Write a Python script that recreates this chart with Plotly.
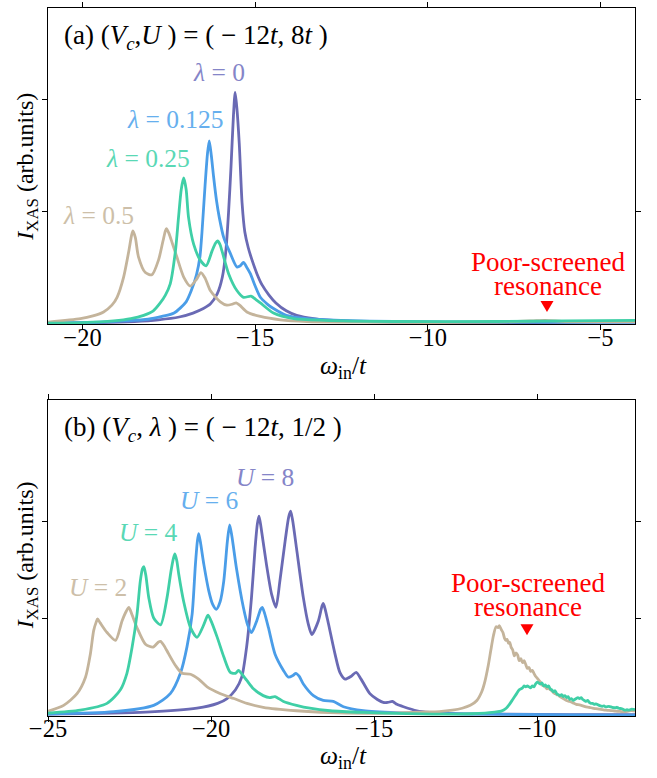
import plotly.graph_objects as go

# ---------------- data (omega_in / t , intensity in arb. units) ----------------
# Panel (a): (Vc, U) = (-12t, 8t), different lambda
a_lam0 = [(-21, 0.01), (-19.5, 0.015), (-18.5, 0.025), (-17.8, 0.04), (-17.2, 0.065), (-16.8, 0.1),
          (-16.5, 0.14), (-16.3, 0.18), (-16.1, 0.27), (-15.95, 0.42), (-15.85, 0.65), (-15.77, 1.0),
          (-15.7, 1.4), (-15.63, 1.85), (-15.58, 2.06), (-15.53, 1.92), (-15.46, 1.6), (-15.38, 1.08),
          (-15.3, 0.82), (-15.2, 0.68), (-15.09, 0.57), (-14.95, 0.45), (-14.8, 0.35), (-14.6, 0.26),
          (-14.4, 0.19), (-14.1, 0.12), (-13.8, 0.08), (-13.3, 0.05), (-12.5, 0.03), (-11, 0.02),
          (-9, 0.015), (-7, 0.015), (-5, 0.02), (-4, 0.02)]
a_lam0125 = [(-21, 0.012), (-19.5, 0.02), (-18.8, 0.03), (-18.1, 0.045), (-17.7, 0.07), (-17.35, 0.1),
             (-17.0, 0.2), (-16.85, 0.3), (-16.7, 0.44), (-16.6, 0.6), (-16.54, 0.82), (-16.45, 1.24),
             (-16.38, 1.52), (-16.33, 1.63), (-16.27, 1.5), (-16.2, 1.3), (-16.12, 1.1), (-16.04, 0.95),
             (-15.91, 0.77), (-15.72, 0.63), (-15.53, 0.51), (-15.43, 0.52), (-15.34, 0.55), (-15.25, 0.51),
             (-15.14, 0.45), (-15.0, 0.34), (-14.85, 0.24), (-14.65, 0.18), (-14.47, 0.14), (-14.1, 0.08),
             (-13.5, 0.05), (-12.5, 0.035), (-11, 0.025), (-8, 0.02), (-6, 0.02), (-4, 0.02)]
a_lam025 = [(-21, 0.01), (-20, 0.015), (-19.1, 0.03), (-18.6, 0.05), (-18.23, 0.08), (-17.95, 0.12),
            (-17.75, 0.19), (-17.6, 0.26), (-17.46, 0.36), (-17.31, 0.65), (-17.22, 0.95), (-17.14, 1.2),
            (-17.07, 1.3), (-17.0, 1.2), (-16.93, 0.95), (-16.78, 0.71), (-16.59, 0.57), (-16.42, 0.52),
            (-16.25, 0.65), (-16.15, 0.72), (-16.09, 0.74), (-16.02, 0.71), (-15.96, 0.65), (-15.77, 0.45),
            (-15.53, 0.3), (-15.34, 0.24), (-15.12, 0.25), (-14.98, 0.22), (-14.85, 0.19), (-14.47, 0.1),
            (-13.89, 0.05), (-13.0, 0.035), (-11, 0.025), (-8, 0.025), (-6, 0.03), (-4, 0.035)]
a_lam05 = [(-21, 0.02), (-20.06, 0.05), (-19.7, 0.075), (-19.39, 0.11), (-19.15, 0.17), (-19.0, 0.24),
           (-18.81, 0.42), (-18.66, 0.65), (-18.58, 0.79), (-18.54, 0.83), (-18.47, 0.77), (-18.38, 0.6),
           (-18.18, 0.46), (-17.99, 0.44), (-17.8, 0.57), (-17.67, 0.74), (-17.6, 0.83), (-17.57, 0.85),
           (-17.5, 0.81), (-17.4, 0.72), (-17.27, 0.6), (-17.07, 0.42), (-16.88, 0.34), (-16.7, 0.4),
           (-16.57, 0.46), (-16.45, 0.41), (-16.3, 0.3), (-16.01, 0.2), (-15.82, 0.17), (-15.65, 0.18),
           (-15.55, 0.19), (-15.45, 0.17), (-15.24, 0.11), (-14.85, 0.07), (-14.27, 0.04), (-13.5, 0.025),
           (-12, 0.02), (-10, 0.015), (-8, 0.02), (-7, 0.03), (-6.6, 0.035), (-6, 0.025), (-4, 0.025)]

# Panel (b): (Vc, lambda) = (-12t, 1/2), different U
b_u8 = [(-25, 0.02), (-22, 0.04), (-20.43, 0.08), (-19.8, 0.13), (-19.51, 0.18), (-19.25, 0.27),
        (-19.06, 0.4), (-18.91, 0.71), (-18.76, 1.22), (-18.65, 1.73), (-18.58, 1.98), (-18.53, 2.06),
        (-18.47, 1.95), (-18.3, 1.56), (-18.14, 1.25), (-18.01, 1.12), (-17.89, 1.39), (-17.73, 1.8),
        (-17.62, 2.05), (-17.56, 2.11), (-17.5, 2.02), (-17.38, 1.73), (-17.17, 1.22), (-17.02, 0.95),
        (-16.91, 0.84), (-16.71, 0.98), (-16.6, 1.13), (-16.56, 1.16), (-16.5, 1.1), (-16.4, 0.95),
        (-16.2, 0.64), (-16.05, 0.45), (-15.89, 0.38), (-15.7, 0.41), (-15.55, 0.45), (-15.4, 0.38),
        (-15.13, 0.23), (-14.9, 0.17), (-14.72, 0.14), (-14.58, 0.14), (-14.44, 0.15), (-14.3, 0.12),
        (-14.1, 0.095), (-13.69, 0.054), (-13.29, 0.037), (-12.5, 0.025), (-11, 0.02), (-9, 0.015),
        (-7, 0.015)]
b_u6 = [(-25, 0.02), (-22.99, 0.044), (-21.76, 0.11), (-21.25, 0.23), (-20.94, 0.44), (-20.74, 0.71),
        (-20.58, 1.05), (-20.48, 1.56), (-20.42, 1.8), (-20.38, 1.88), (-20.33, 1.8), (-20.22, 1.56),
        (-20.07, 1.29), (-19.95, 1.15), (-19.84, 1.1), (-19.72, 1.18), (-19.61, 1.39), (-19.5, 1.8),
        (-19.43, 1.97), (-19.36, 1.85), (-19.22, 1.52), (-19.01, 1.12), (-18.88, 0.94), (-18.76, 0.86),
        (-18.6, 0.98), (-18.48, 1.1), (-18.43, 1.12), (-18.36, 1.06), (-18.24, 0.91), (-18.04, 0.64),
        (-17.78, 0.47), (-17.63, 0.40), (-17.48, 0.42), (-17.4, 0.44), (-17.3, 0.41), (-17.17, 0.33),
        (-16.86, 0.21), (-16.56, 0.16), (-16.25, 0.15), (-15.94, 0.095), (-15.33, 0.054), (-14.31, 0.034),
        (-12, 0.02), (-9, 0.012), (-7, 0.01)]
b_u4 = [(-25, 0.03), (-24.01, 0.06), (-23.19, 0.13), (-22.78, 0.27), (-22.58, 0.44), (-22.42, 0.71),
        (-22.27, 1.05), (-22.17, 1.39), (-22.1, 1.52), (-22.06, 1.54), (-22.0, 1.45), (-21.91, 1.22),
        (-21.76, 1.01), (-21.55, 0.94), (-21.35, 1.22), (-21.23, 1.49), (-21.15, 1.63), (-21.11, 1.67),
        (-21.05, 1.6), (-20.99, 1.46), (-20.84, 1.18), (-20.63, 0.91), (-20.43, 0.81), (-20.25, 0.92),
        (-20.13, 1.02), (-20.09, 1.04), (-20.0, 0.98), (-19.81, 0.81), (-19.61, 0.61), (-19.41, 0.45),
        (-19.25, 0.44), (-19.16, 0.47), (-19.05, 0.43), (-18.91, 0.37), (-18.7, 0.28), (-18.4, 0.21),
        (-18.2, 0.19), (-18.04, 0.2), (-17.78, 0.15), (-17.38, 0.11), (-16.97, 0.08), (-16.35, 0.054),
        (-15.33, 0.037), (-14, 0.025), (-12.5, 0.02), (-11.6, 0.03), (-11.3, 0.04), (-11.1, 0.05),
        (-10.95, 0.08), (-10.85, 0.12), (-10.75, 0.17), (-10.65, 0.22), (-10.55, 0.27), (-10.45, 0.29),
        (-10.4, 0.31), (-10.35, 0.30), (-10.3, 0.31), (-10.25, 0.30), (-10.2, 0.29), (-10.15, 0.31),
        (-10.1, 0.30), (-10.05, 0.33), (-10.0, 0.35), (-9.95, 0.34), (-9.9, 0.33), (-9.85, 0.34),
        (-9.8, 0.31), (-9.75, 0.32), (-9.7, 0.30), (-9.65, 0.31), (-9.6, 0.28), (-9.55, 0.27),
        (-9.5, 0.25), (-9.45, 0.26), (-9.4, 0.23), (-9.35, 0.22), (-9.3, 0.21), (-9.25, 0.22),
        (-9.2, 0.2), (-9.15, 0.21), (-9.1, 0.19), (-9.05, 0.2), (-9.0, 0.17), (-8.95, 0.18),
        (-8.9, 0.16), (-8.85, 0.17), (-8.8, 0.18), (-8.75, 0.19), (-8.7, 0.18), (-8.65, 0.19),
        (-8.6, 0.17), (-8.55, 0.16), (-8.5, 0.15), (-8.45, 0.16), (-8.4, 0.14), (-8.35, 0.13),
        (-8.3, 0.13), (-8.25, 0.12), (-8.2, 0.125), (-8.1, 0.11), (-8.0, 0.1), (-7.95, 0.105),
        (-7.9, 0.095), (-7.8, 0.1), (-7.7, 0.09), (-7.6, 0.085), (-7.55, 0.09), (-7.5, 0.08),
        (-7.4, 0.075), (-7.3, 0.06), (-7.25, 0.065), (-7.2, 0.06), (-7.1, 0.07), (-7.0, 0.065)]
b_u2 = [(-25, 0.05), (-24.52, 0.11), (-24.11, 0.23), (-23.85, 0.40), (-23.7, 0.64), (-23.6, 0.88),
        (-23.52, 0.97), (-23.48, 1.0), (-23.4, 0.96), (-23.19, 0.86), (-22.93, 0.78), (-22.73, 0.98),
        (-22.6, 1.08), (-22.52, 1.12), (-22.42, 1.04), (-22.27, 0.91), (-22.01, 0.74), (-21.78, 0.71),
        (-21.62, 0.76), (-21.55, 0.77), (-21.45, 0.73), (-21.3, 0.64), (-21.09, 0.52), (-20.89, 0.44),
        (-20.63, 0.43), (-20.38, 0.38), (-20.12, 0.30), (-19.71, 0.23), (-19.3, 0.18), (-18.9, 0.13),
        (-18.4, 0.09), (-17.38, 0.054), (-16.35, 0.034), (-15.33, 0.027), (-14.5, 0.03), (-13.6, 0.04),
        (-13.0, 0.045), (-12.6, 0.06), (-12.3, 0.08), (-12.05, 0.11), (-11.85, 0.16), (-11.7, 0.25),
        (-11.6, 0.36), (-11.5, 0.52), (-11.42, 0.68), (-11.34, 0.83), (-11.26, 0.92), (-11.2, 0.91),
        (-11.16, 0.93), (-11.1, 0.89), (-11.05, 0.86), (-11.0, 0.80), (-10.96, 0.78), (-10.92, 0.79),
        (-10.88, 0.75), (-10.84, 0.76), (-10.8, 0.71), (-10.75, 0.68), (-10.7, 0.62), (-10.65, 0.65),
        (-10.6, 0.63), (-10.55, 0.57), (-10.5, 0.59), (-10.45, 0.55), (-10.4, 0.57), (-10.35, 0.53),
        (-10.3, 0.49), (-10.25, 0.5), (-10.2, 0.46), (-10.15, 0.47), (-10.1, 0.44), (-10.05, 0.41),
        (-10.0, 0.39), (-9.95, 0.37), (-9.9, 0.35), (-9.85, 0.32), (-9.8, 0.31), (-9.75, 0.30),
        (-9.7, 0.28), (-9.65, 0.29), (-9.6, 0.27), (-9.55, 0.26), (-9.5, 0.24), (-9.45, 0.23),
        (-9.4, 0.22), (-9.35, 0.215), (-9.3, 0.2), (-9.2, 0.18), (-9.1, 0.16), (-9.0, 0.15),
        (-8.9, 0.135), (-8.8, 0.12), (-8.7, 0.115), (-8.6, 0.105), (-8.5, 0.095), (-8.4, 0.09),
        (-8.3, 0.08), (-8.2, 0.075), (-8.1, 0.07), (-8.0, 0.065), (-7.9, 0.06), (-7.8, 0.058),
        (-7.7, 0.055), (-7.6, 0.05), (-7.5, 0.048), (-7.4, 0.045), (-7.3, 0.045), (-7.2, 0.05),
        (-7.1, 0.055), (-7.0, 0.05)]

a_labels = ["<i>λ</i> = 0", "<i>λ</i> = 0.125", "<i>λ</i> = 0.25", "<i>λ</i> = 0.5"]
b_labels = ["<i>U</i> = 8", "<i>U</i> = 6", "<i>U</i> = 4", "<i>U</i> = 2"]
a_ticks = [-20, -15, -10, -5]
b_ticks = [-25, -20, -15, -10]

# ---------------- styling ----------------
FONT = "Liberation Serif"
FS = 25.5
TFS = 24.5
RED = "#FF0000"
line_cols = ["#6A6AB4", "#4A9DE8", "#3FCFA6", "#C4B49B"]
label_cols = ["#8585C8", "#66AFEE", "#5AD8B5", "#CDBFA9"]

fig = go.Figure()

def add_series(series, color, xa, ya):
    xs, ys = zip(*series)
    fig.add_trace(go.Scatter(x=list(xs), y=list(ys), mode="lines",
                             line=dict(color=color, width=2.8, shape="spline", smoothing=0.7),
                             xaxis=xa, yaxis=ya, showlegend=False, hoverinfo="skip"))

for s, c in zip([a_lam0, a_lam0125, a_lam05, a_lam025], [line_cols[0], line_cols[1], line_cols[3], line_cols[2]]):
    add_series(s, c, "x", "y")
for s, c in zip([b_u8, b_u6, b_u2, b_u4], [line_cols[0], line_cols[1], line_cols[3], line_cols[2]]):
    add_series(s, c, "x2", "y2")

# pixel helpers for annotation placement (plot area: x 48..635, y 2..716)
L, R, T, B = 48, 635, 2, 716
def px(xp):
    return (xp - L) / (R - L)
def py(yp):
    return (B - yp) / (B - T)

ann = []
def text(xp, yp, s, color="black", size=FS, xanchor="center", angle=0):
    ann.append(dict(x=px(xp), y=py(yp), xref="paper", yref="paper", text=s, showarrow=False,
                    xanchor=xanchor, yanchor="middle", textangle=angle,
                    font=dict(family=FONT, size=size, color=color)))

shapes = []
def down_triangle(xc, yc, w=13, h=11):
    pts = [(xc - w / 2, yc - h / 2), (xc + w / 2, yc - h / 2), (xc, yc + h / 2)]
    path = "M " + " L ".join(f"{px(a):.5f},{py(b):.5f}" for a, b in pts) + " Z"
    shapes.append(dict(type="path", xref="paper", yref="paper", path=path,
                       fillcolor=RED, line=dict(width=0)))

# panel titles
text(62, 31, "(a) (<i>V</i><sub><i>c</i></sub>,<i>U</i> ) = ( − 12<i>t</i>, 8<i>t</i> )", xanchor="left", size=27)
text(62, 427, "(b) (<i>V</i><sub><i>c</i></sub>, <i>λ</i> ) = ( − 12<i>t</i>, 1/2 )", xanchor="left", size=27)

# curve labels
for (xp, yp), s, c in zip([(219, 67), (175, 114), (148, 154), (98, 211)], a_labels, label_cols):
    text(xp, yp, s, color=c)
for (xp, yp), s, c in zip([(265, 475), (209, 499), (148, 531), (98, 586)], b_labels, label_cols):
    text(xp, yp, s, color=c)

# poor-screened resonance markers
text(548, 258, "Poor-screened", color=RED, size=27)
text(548, 282, "resonance", color=RED, size=27)
down_triangle(547, 303)
text(528, 582, "Poor-screened", color=RED, size=27)
text(528, 606, "resonance", color=RED, size=27)
down_triangle(527, 629)

# axis titles
text(344, 364, "<i>ω</i><sub>in</sub>/<i>t</i>")
text(344, 757, "<i>ω</i><sub>in</sub>/<i>t</i>")
text(27, 162, "<i>I</i><sub>XAS</sub> (arb.units)", angle=-90, size=24)
text(27, 554, "<i>I</i><sub>XAS</sub> (arb.units)", angle=-90, size=24)

axis_common = dict(showline=True, linecolor="black", linewidth=1, mirror="ticks", ticks="outside",
                   ticklen=5, tickwidth=1, tickcolor="black", showgrid=False, zeroline=False,
                   tickfont=dict(family=FONT, size=TFS, color="black"))

dom_a = [py(321), 1.0]
dom_b = [0.0, py(397)]

fig.update_layout(
    width=657, height=778,
    margin=dict(l=L, r=657 - R, t=T, b=778 - B),
    paper_bgcolor="white", plot_bgcolor="white",
    showlegend=False,
    xaxis=dict(domain=[0, 1], range=[-21, -4], tickvals=a_ticks, anchor="y", ticklabelstandoff=-14, **axis_common),
    yaxis=dict(domain=dom_a, range=[0, 2.81], tickvals=[1, 2], showticklabels=False, anchor="x", **axis_common),
    xaxis2=dict(domain=[0, 1], range=[-25, -7], tickvals=b_ticks, anchor="y2", ticklabelstandoff=-14, **axis_common),
    yaxis2=dict(domain=dom_b, range=[0, 3.26], tickvals=[1, 2], showticklabels=False, anchor="x2", **axis_common),
    annotations=ann,
    shapes=shapes,
)

fig.write_html("out.html")
